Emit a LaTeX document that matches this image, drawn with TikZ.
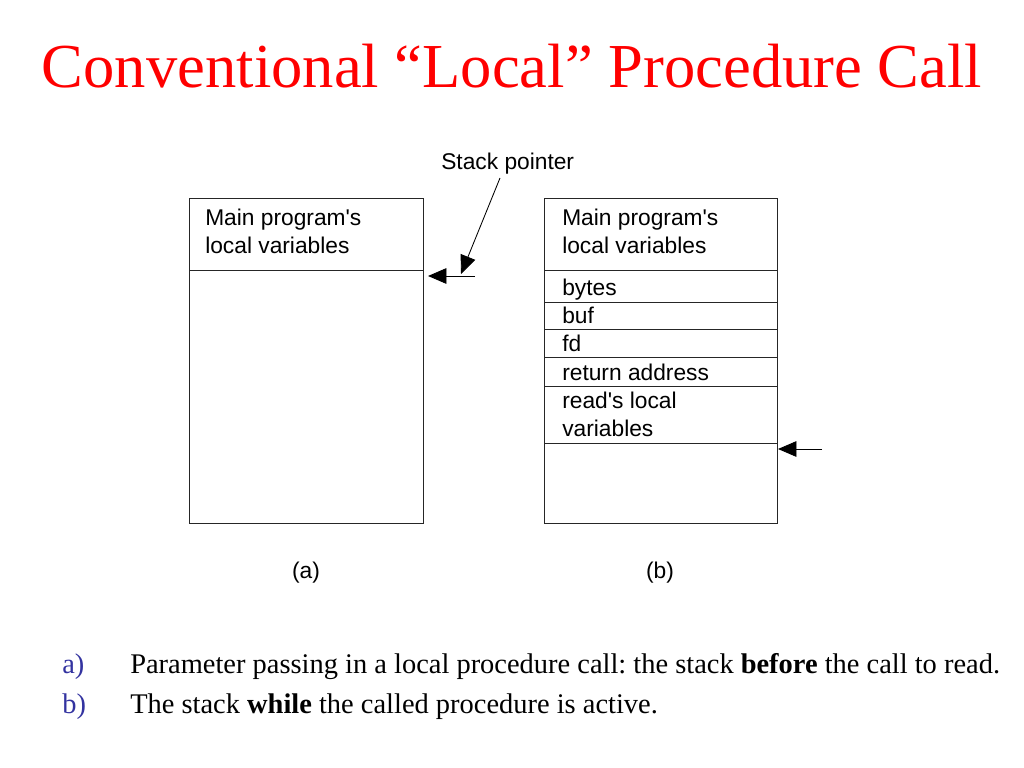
\documentclass[tikz,border=0pt]{standalone}
\usepackage{fontspec}
\setmainfont{Liberation Serif}
\newfontfamily\stackfont{Liberation Sans}
\usetikzlibrary{arrows.meta}
\definecolor{listblue}{RGB}{51,51,160}
\frenchspacing
\newcommand{\stackframe}[2]% west, east
{(#1,198) rectangle (#2,523)
}

\begin{document}
\begin{tikzpicture}[x=0.703125pt,y=-0.703125pt,
  frame/.style={line width=0.6pt,draw=black!85},
  cell/.style={anchor=base west,inner sep=0pt,font=\stackfont\fontsize{16}{19}\selectfont},
  sp/.style={-{Triangle[length=13pt,width=11pt]},line width=0.6pt},
  slide/.style={anchor=base west,inner sep=0pt,font=\fontsize{20}{24}\selectfont}]
\useasboundingbox (0,0) rectangle (1024,768);
\node[anchor=base,inner sep=0pt,text=red,font=\fontsize{44}{50}\selectfont] (title) at (512,88) {Conventional “Local” Procedure Call};
% (a) stack before the call
\draw[frame] \stackframe{189}{423};
\draw[frame] (189,270) -- (423,270);
\node[cell] (mainA) at (205,226) {Main program's};
\node[cell] (localA) at (205,254) {local variables};
% (b) stack while read is active
\draw[frame] \stackframe{544}{777};
\foreach \y in {270,302,329,357,386,443}
  \draw[frame] (544,\y) -- (778,\y);
\foreach \y/\t [count=\i] in {226/Main program's,254/local variables,295/bytes,323/buf,351/fd,380/return address,408/read's local,436/variables}
  \node[cell] (cellB\i) at (562,\y) {\t};
% stack pointers
\node[cell] (sptext) at (441,170) {Stack pointer};
\coordinate (spfoot) at (500,178);
\coordinate (spdiag) at (461,274);
\coordinate (sptailA) at (475,276);
\coordinate (sptipA) at (428,276);
\coordinate (sptailB) at (822,449);
\coordinate (sptipB) at (778,449);
\draw[sp] (spfoot) -- (spdiag);
\draw[sp] (sptailA) -- (sptipA);
\draw[sp] (sptailB) -- (sptipB);
\node[cell,anchor=base] (capA) at (306,578) {(a)};
\node[cell,anchor=base] (capB) at (660,578) {(b)};
% captions below
\node[slide,text=listblue] (itemA) at (62,673) {a)};
\node[slide] (textA) at (130,673) {Parameter passing in a local procedure call: the stack \textbf{before} the call to read.};
\node[slide,text=listblue] (itemB) at (62,713) {b)};
\node[slide] (textB) at (130,713) {The stack \textbf{while} the called procedure is active.};
\end{tikzpicture}
\end{document}
